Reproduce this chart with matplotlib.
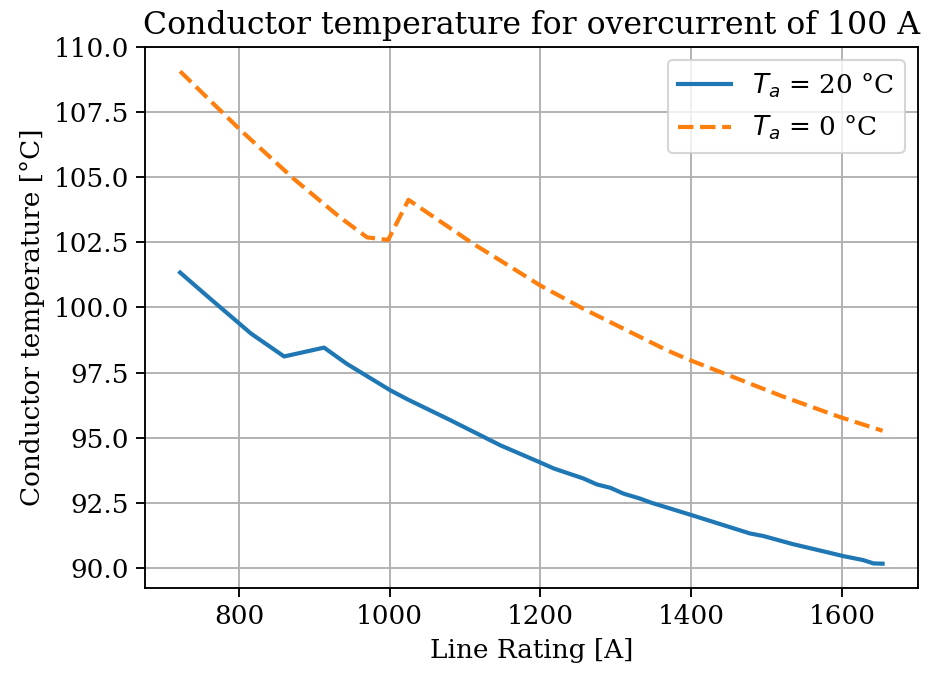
import matplotlib
matplotlib.use('Agg')
import matplotlib.pyplot as plt

# line rating [A] vs conductor temperature [degC]
rating_20 = [722, 761, 816, 860, 913, 943, 1001, 1024, 1081, 1147, 1200, 1218,
             1257, 1275, 1293, 1310, 1332, 1346, 1401, 1478, 1496, 1535, 1579,
             1602, 1628, 1642, 1654]
temp_20 = [101.34, 100.36, 99.0, 98.12, 98.46, 97.84, 96.82, 96.47, 95.67,
           94.71, 94.05, 93.82, 93.44, 93.21, 93.08, 92.86, 92.67, 92.52,
           92.03, 91.33, 91.23, 90.92, 90.62, 90.46, 90.31, 90.18, 90.17]

rating_0 = [722, 803, 873, 934, 970, 998, 1025, 1111, 1147, 1200, 1257, 1367,
            1394, 1456, 1522, 1597, 1654]
temp_0 = [109.06, 106.78, 104.93, 103.46, 102.69, 102.59, 104.13, 102.44,
          101.8, 100.84, 99.95, 98.37, 98.03, 97.33, 96.58, 95.8, 95.27]

plt.rcParams['font.family'] = 'DejaVu Serif'
plt.rcParams['font.size'] = 12.6
plt.rcParams['axes.linewidth'] = 0.9
plt.rcParams['grid.linewidth'] = 0.9
plt.rcParams['xtick.major.size'] = 4.2
plt.rcParams['ytick.major.size'] = 4.2
plt.rcParams['xtick.major.width'] = 0.9
plt.rcParams['ytick.major.width'] = 0.9

fig = plt.figure(figsize=(931 / 150, 673 / 150), dpi=150)
ax = fig.add_axes([145 / 931, 1 - 588.3 / 673, (917.7 - 145) / 931, (588.3 - 46.7) / 673])
ax.plot(rating_20, temp_20, '-', lw=2, label=r'$T_a$ = 20 °C')
ax.plot(rating_0, temp_0, '--', lw=2, label=r'$T_a$ = 0 °C')
ax.grid(True)
ax.set_title('Conductor temperature for overcurrent of 100 A')
ax.set_xlabel('Line Rating [A]')
ax.set_ylabel('Conductor temperature [°C]')
ax.legend(loc='upper right')

fig.savefig('out.png', dpi=150)
